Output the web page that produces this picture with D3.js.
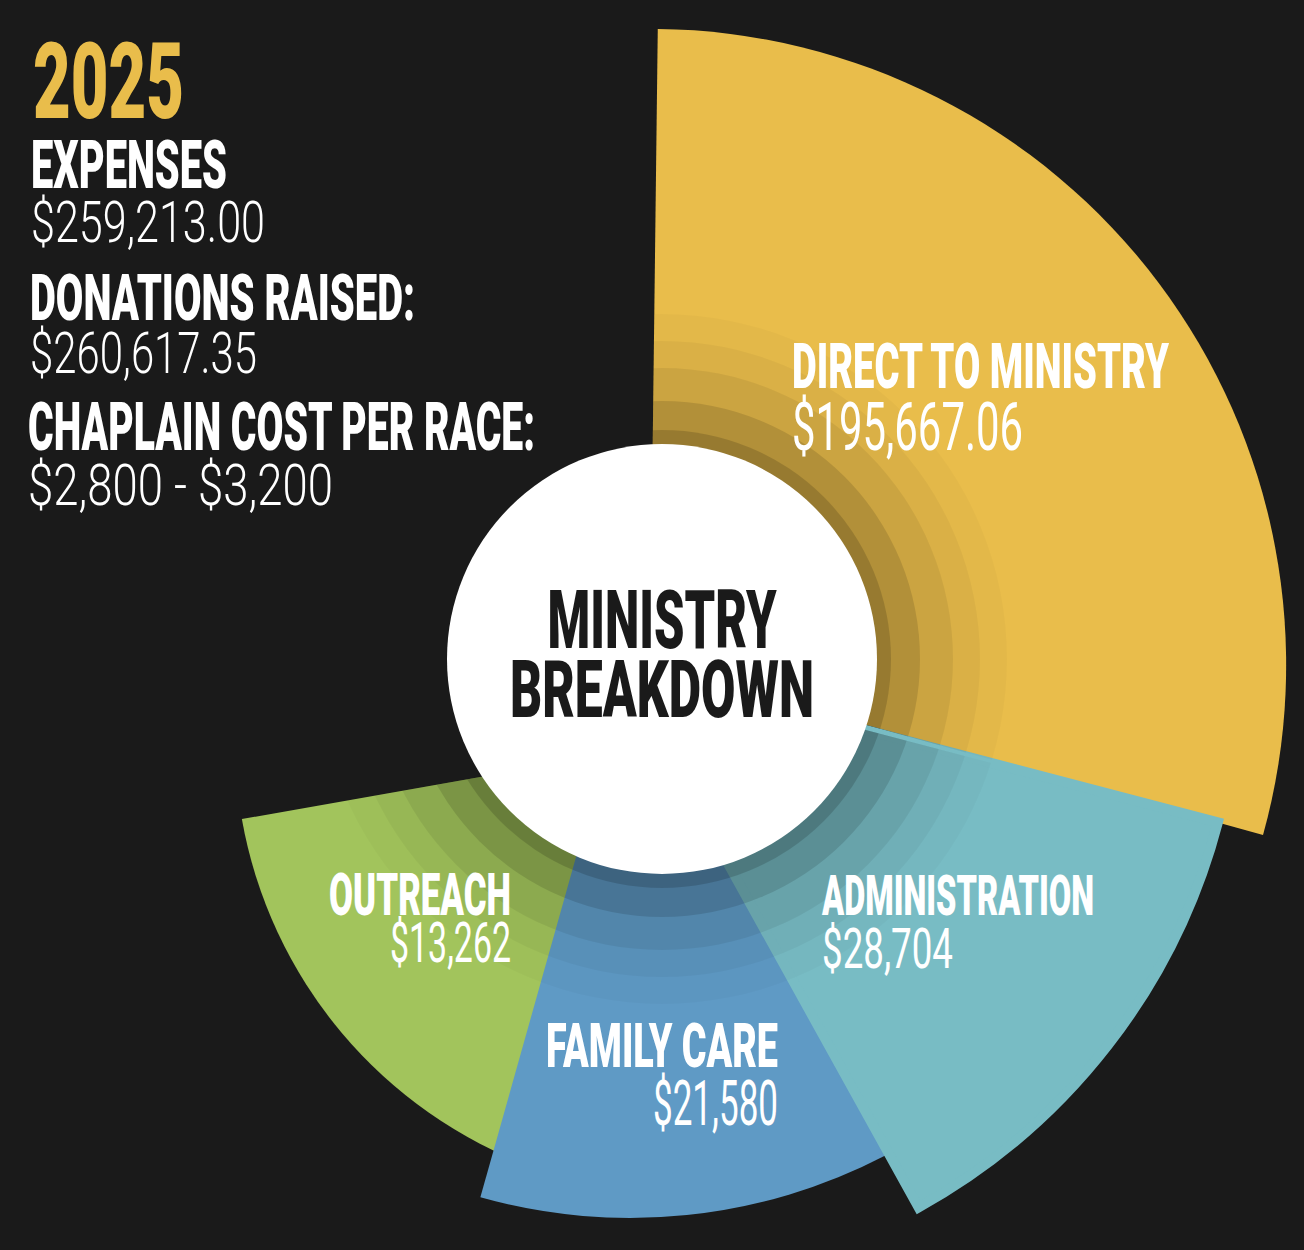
<!DOCTYPE html>
<html>
<head>
<meta charset="utf-8">
<script src="https://cdn.jsdelivr.net/npm/d3@7"></script>
<style>
  body { margin: 0; background: #1a1a1a; }
  svg { display: block; }
</style>
</head>
<body>
<div id="chart"></div>
<script>
// Slice data
const categories = ["DIRECT TO MINISTRY", "ADMINISTRATION", "FAMILY CARE", "OUTREACH"];
const amounts = [195667.06, 28704, 21580, 13262];
const amountLabels = ["$195,667.06", "$28,704", "$21,580", "$13,262"];
const startDeg = [0.7, 104.7, 152.5, 200];
const endDeg = [105.5, 151, 195.7, 260];
const reach = [0.994, 0.969, 0.864, 0.711]; // wedge length, relative to the longest
const sliceColors = ["#e9bd4b", "#78bcc4", "#5f9ac5", "#a2c45c"];

// Summary block
const summaryYear = "2025";
const summaryHeads = ["EXPENSES", "DONATIONS RAISED:", "CHAPLAIN COST PER RACE:"];
const summaryValues = ["$259,213.00", "$260,617.35", "$2,800 - $3,200"];
const centerTitle = ["MINISTRY", "BREAKDOWN"];

const width = 1304,
  height = 1250;
const center = { x: 650, y: 665 };
const hub = { x: 662, y: 659, r: 215 };

// each wedge is nudged a little off the common centre, like in the original
const nudge = [
  [0, 0],
  [-32, 0],
  [-20, 0],
  [40, 75],
];
// draw order: the later ones sit on top
const drawOrder = [0, 3, 2, 1];
// wedge outline in its own colour (closes the seam between wedges)
const edgeWidth = [0, 10, 0, 0];

const heavy = "Roboto, 'Open Sans', sans-serif";

let svg = d3
  .select("#chart")
  .append("svg")
  .attr("width", width)
  .attr("height", height);

svg.append("rect").attr("width", width).attr("height", height).attr("fill", "#1a1a1a");

const rScale = d3.scaleLinear().domain([0, 1]).range([0, 640]);
const toRad = (d) => (d * Math.PI) / 180;

const slices = categories.map((c, i) => ({
  name: c,
  value: amounts[i],
  label: amountLabels[i],
  startAngle: toRad(startDeg[i]),
  endAngle: toRad(endDeg[i]),
  outer: rScale(reach[i]),
  color: sliceColors[i],
  i: i,
}));

const arc = d3
  .arc()
  .innerRadius(0)
  .outerRadius((d) => d.outer);

const sliceTransform = (d) =>
  `translate(${center.x + nudge[d.i][0]},${center.y + nudge[d.i][1]})`;

const ordered = drawOrder.map((i) => slices[i]);

// wedges
svg
  .append("g")
  .selectAll("path")
  .data(ordered)
  .join("path")
  .attr("transform", sliceTransform)
  .attr("d", arc)
  .attr("fill", (d) => d.color)
  .attr("stroke", (d) => d.color)
  .attr("stroke-width", (d) => edgeWidth[d.i])
  .attr("stroke-linejoin", "miter");

// clip for the inner shading (union of all wedges)
const defs = svg.append("defs");
defs
  .append("clipPath")
  .attr("id", "wedges")
  .selectAll("path")
  .data(ordered)
  .join("path")
  .attr("transform", sliceTransform)
  .attr("d", arc);

// stepped dark rings around the hub
const ringR = [345, 318, 291, 258, 229];
const ringA = [0.025, 0.04, 0.065, 0.12, 0.15];
svg
  .append("g")
  .attr("clip-path", "url(#wedges)")
  .selectAll("circle")
  .data(ringR)
  .join("circle")
  .attr("cx", hub.x)
  .attr("cy", hub.y)
  .attr("r", (d) => d)
  .attr("fill", "#000")
  .attr("fill-opacity", (d, i) => ringA[i]);

// white hub
svg
  .append("circle")
  .attr("cx", hub.x)
  .attr("cy", hub.y)
  .attr("r", hub.r)
  .attr("fill", "#fff");

// centre title
const titleLayout = [
  { y: 648, size: 82, w: 229 },
  { y: 717, size: 80, w: 304 },
];
svg
  .append("g")
  .selectAll("text")
  .data(centerTitle)
  .join("text")
  .attr("x", hub.x)
  .attr("y", (d, i) => titleLayout[i].y)
  .attr("text-anchor", "middle")
  .attr("font-family", heavy)
  .attr("font-weight", 900)
  .attr("font-size", (d, i) => titleLayout[i].size)
  .attr("textLength", (d, i) => titleLayout[i].w)
  .attr("lengthAdjust", "spacingAndGlyphs")
  .attr("fill", "#1a1a1a")
  .text((d) => d);

// wedge labels
const labelLayout = [
  { x: 792, y: 388, anchor: "start", ns: 63, nw: 377, vy: 450, vs: 67, vw: 231 },
  { x: 822, y: 915, anchor: "start", ns: 56, nw: 272, vy: 968, vs: 56, vw: 131 },
  { x: 778, y: 1067, anchor: "end", ns: 62, nw: 232, vy: 1125, vs: 63, vw: 125 },
  { x: 511, y: 915, anchor: "end", ns: 60, nw: 182, vy: 962, vs: 55, vw: 121 },
];

const labels = svg
  .append("g")
  .selectAll("g")
  .data(slices)
  .join("g")
  .attr("text-anchor", (d) => labelLayout[d.i].anchor)
  .attr("fill", "#fff");

labels
  .append("text")
  .attr("x", (d) => labelLayout[d.i].x)
  .attr("y", (d) => labelLayout[d.i].y)
  .attr("font-family", heavy)
  .attr("font-weight", 900)
  .attr("font-size", (d) => labelLayout[d.i].ns)
  .attr("textLength", (d) => labelLayout[d.i].nw)
  .attr("lengthAdjust", "spacingAndGlyphs")
  .text((d) => d.name);

labels
  .append("text")
  .attr("x", (d) => labelLayout[d.i].x)
  .attr("y", (d) => labelLayout[d.i].vy)
  .attr("font-family", heavy)
  .attr("font-weight", 400)
  .attr("font-size", (d) => labelLayout[d.i].vs)
  .attr("textLength", (d) => labelLayout[d.i].vw)
  .attr("lengthAdjust", "spacingAndGlyphs")
  .text((d) => d.label);

// summary block, top left
const summary = svg.append("g").attr("fill", "#fff");

summary
  .append("text")
  .attr("x", 33)
  .attr("y", 118)
  .attr("font-family", heavy)
  .attr("font-weight", 900)
  .attr("font-size", 106)
  .attr("textLength", 151)
  .attr("lengthAdjust", "spacingAndGlyphs")
  .attr("fill", "#e9bd4b")
  .text(summaryYear);

const headLayout = [
  { x: 31, y: 188, size: 67, w: 196 },
  { x: 30, y: 320, size: 64, w: 385 },
  { x: 28, y: 450, size: 66, w: 507 },
];
const valueLayout = [
  { x: 31, y: 242, size: 57, w: 234 },
  { x: 30, y: 373, size: 57, w: 227 },
  { x: 28, y: 505, size: 57, w: 305 },
];

summary
  .selectAll(".head")
  .data(summaryHeads)
  .join("text")
  .attr("class", "head")
  .attr("x", (d, i) => headLayout[i].x)
  .attr("y", (d, i) => headLayout[i].y)
  .attr("font-family", heavy)
  .attr("font-weight", 900)
  .attr("font-size", (d, i) => headLayout[i].size)
  .attr("textLength", (d, i) => headLayout[i].w)
  .attr("lengthAdjust", "spacingAndGlyphs")
  .text((d) => d);

summary
  .selectAll(".val")
  .data(summaryValues)
  .join("text")
  .attr("class", "val")
  .attr("x", (d, i) => valueLayout[i].x)
  .attr("y", (d, i) => valueLayout[i].y)
  .attr("font-family", heavy)
  .attr("font-weight", 300)
  .attr("font-size", (d, i) => valueLayout[i].size)
  .attr("textLength", (d, i) => valueLayout[i].w)
  .attr("lengthAdjust", "spacingAndGlyphs")
  .text((d) => d);
</script>
</body>
</html>
